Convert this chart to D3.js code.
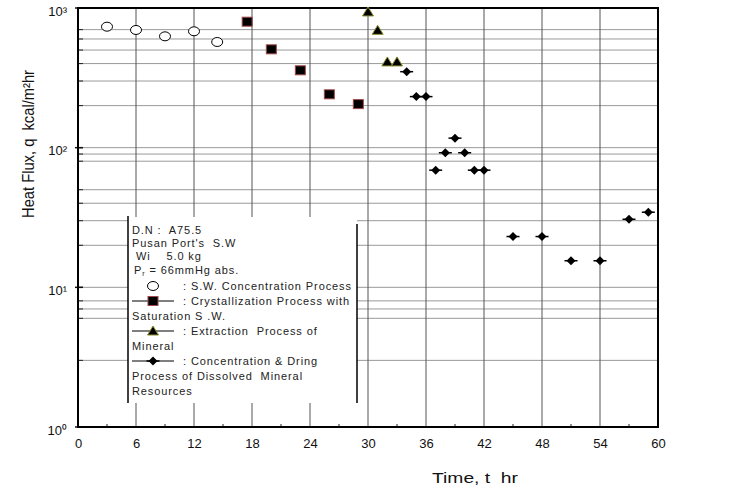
<!DOCTYPE html>
<html>
<head>
<meta charset="utf-8">
<script src="https://cdn.jsdelivr.net/npm/d3@7"></script>
<style>
  body { margin: 0; background: #fff; }
  text { font-family: "Liberation Sans", Arial, sans-serif; white-space: pre; }
  .legend text { font-family: "Liberation Sans", Arial, sans-serif; font-size: 11px; letter-spacing: 0.9px; fill: #222; }
</style>
</head>
<body>
<div class="chart"></div>
<script>
// values
let swTime = [3, 6, 9, 12, 14.4];
let swFlux = [735, 696, 627, 681, 571];

let crystTime = [17.5, 20, 23, 26, 29];
let crystFlux = [798, 506, 358, 241, 205];

let extrTime = [30, 31, 32, 33];
let extrFlux = [937, 692, 411, 411];

let concTime = [34, 35, 36, 37, 38, 39, 40, 41, 42, 45, 48, 51, 54, 57, 59];
let concFlux = [350, 232, 232, 69, 92, 117, 92, 69, 69, 23.1, 23.1, 15.5, 15.5, 30.7, 34.5];

let xTicks = [0, 6, 12, 18, 24, 30, 36, 42, 48, 54, 60];
let xMinorTicks = [3, 9, 15, 21, 27, 33, 39, 45, 51, 57];
let yTicks = [1, 10, 100, 1000];
let yTickLabels = ["10⁰", "10¹", "10²", "10³"];
// the horizontal rules the original actually shows
let yGrid = [700, 600, 500, 400, 300, 200, 100, 90, 80, 50, 40, 30, 20, 10, 8, 7, 6, 3];

let legendHeader = ["D.N :  A75.5", "Pusan Port's  S.W", " Wi    5.0 kg"];
let legendRows = [
  ["circle", ": S.W. Concentration Process"],
  ["square", ": Crystallization Process with"],
  ["", "Saturation S .W."],
  ["triangle", ": Extraction  Process of"],
  ["", "Mineral"],
  ["diamond", ": Concentration & Dring"],
  ["", "Process of Dissolved  Mineral"],
  ["", "Resources"]
];

let svgWidth = 742;
let svgHeight = 495;

let svg = d3.select(".chart")
  .append("svg")
  .attr("width", svgWidth)
  .attr("height", svgHeight)
  .style("background", "#fff");

let x = d3.scaleLinear().domain([0, 60]).range([78, 658]);
let y = d3.scaleLog().domain([1, 1000]).range([427, 8]);

// grid
let grid = svg.append("g");
grid.selectAll(".hg")
  .data(yGrid)
  .enter()
  .append("line")
  .attr("x1", x(0)).attr("x2", x(60))
  .attr("y1", d => y(d)).attr("y2", d => y(d))
  .attr("stroke", "#9a9a9a")
  .attr("stroke-width", 1);

grid.selectAll(".vg")
  .data(xTicks.slice(1, -1))
  .enter()
  .append("line")
  .attr("x1", d => x(d)).attr("x2", d => x(d))
  .attr("y1", y(1000)).attr("y2", y(1))
  .attr("stroke", "#555")
  .attr("stroke-width", 1);

// little ticks inside the left axis
svg.append("g").selectAll("line")
  .data(yGrid)
  .enter()
  .append("line")
  .attr("x1", x(0)).attr("x2", x(0) + 5)
  .attr("y1", d => y(d)).attr("y2", d => y(d))
  .attr("stroke", "#222");

svg.append("g").selectAll("line")
  .data(yTicks)
  .enter()
  .append("line")
  .attr("x1", x(0) - 3).attr("x2", x(0) + 5)
  .attr("y1", d => y(d)).attr("y2", d => y(d))
  .attr("stroke", "#111")
  .attr("stroke-width", 1.5);

svg.append("g").selectAll("line")
  .data(xMinorTicks)
  .enter()
  .append("line")
  .attr("x1", d => x(d)).attr("x2", d => x(d))
  .attr("y1", y(1)).attr("y2", y(1) - 3)
  .attr("stroke", "#222");

// frame
svg.append("rect")
  .attr("x", x(0)).attr("y", y(1000))
  .attr("width", x(60) - x(0)).attr("height", y(1) - y(1000))
  .attr("fill", "none")
  .attr("stroke", "#000")
  .attr("stroke-width", 2);

// axes labels via d3 axes (no tick lines, the grid does that)
let bottomAxis = d3.axisBottom(x).tickValues(xTicks).tickSize(0).tickPadding(12);
let xAxisG = svg.append("g")
  .attr("transform", `translate(0, ${y(1)})`)
  .call(bottomAxis);
xAxisG.select(".domain").remove();
xAxisG.selectAll("text")
  .style("font-family", "Liberation Sans, Arial, sans-serif")
  .style("font-size", "13px")
  .attr("fill", "#111");

let leftAxis = d3.axisLeft(y).tickValues(yTicks).tickSize(0).tickPadding(11)
  .tickFormat((d, i) => yTickLabels[i]);
let yAxisG = svg.append("g")
  .attr("transform", `translate(${x(0)}, 0)`)
  .call(leftAxis);
yAxisG.select(".domain").remove();
yAxisG.selectAll("text")
  .style("font-family", "Liberation Sans, Arial, sans-serif")
  .style("font-size", "13px")
  .attr("fill", "#111")
  .attr("dy", "0.55em");

// markers
function drawSquare(g) {
  g.append("rect").attr("x", -5).attr("y", -4.5).attr("width", 10).attr("height", 9)
    .attr("fill", "#000").attr("stroke", "#a04848").attr("stroke-width", 1);
}
function drawTriangle(g) {
  g.append("path").attr("d", "M0,-5 L5.5,4 L-5.5,4 Z")
    .attr("fill", "#000").attr("stroke", "#8c8c2c").attr("stroke-width", 1);
}
function drawDiamond(g) {
  g.append("line").attr("x1", -6.5).attr("x2", 6.5).attr("stroke", "#000").attr("stroke-width", 1.5);
  g.append("path").attr("d", "M0,-4.5 L4.5,0 L0,4.5 L-4.5,0 Z").attr("fill", "#000");
}
function drawCircle(g) {
  g.append("ellipse").attr("rx", 5.5).attr("ry", 4.5)
    .attr("fill", "#fff").attr("stroke", "#000").attr("stroke-width", 1);
}

let series = [
  { t: swTime, q: swFlux, draw: drawCircle },
  { t: crystTime, q: crystFlux, draw: drawSquare },
  { t: extrTime, q: extrFlux, draw: drawTriangle },
  { t: concTime, q: concFlux, draw: drawDiamond }
];

series.forEach(s => {
  s.t.forEach((tv, i) => {
    let g = svg.append("g").attr("transform", `translate(${x(tv)}, ${y(s.q[i])})`);
    s.draw(g);
  });
});

// legend box
let legend = svg.append("g").attr("class", "legend");
legend.append("clipPath").attr("id", "legClip")
  .append("rect").attr("x", 128).attr("y", 210).attr("width", 228).attr("height", 200);
legend.append("rect")
  .attr("x", 128).attr("y", 217).attr("width", 229).attr("height", 186)
  .attr("fill", "#fff");
legend.append("line").attr("x1", 128).attr("x2", 128).attr("y1", 216).attr("y2", 403)
  .attr("stroke", "#000").attr("stroke-width", 1.5);
legend.append("line").attr("x1", 357).attr("x2", 357).attr("y1", 224).attr("y2", 403)
  .attr("stroke", "#000").attr("stroke-width", 1.5);

let lt = legend.append("g").attr("clip-path", "url(#legClip)");
legendHeader.forEach((s, i) => {
  lt.append("text").attr("x", 132).attr("y", 234 + i * 13.2).text(s);
});
let pLine = lt.append("text").attr("x", 134).attr("y", 273.6);
pLine.append("tspan").text("P");
pLine.append("tspan").attr("dy", 2).style("font-size", "7px").text("r");
pLine.append("tspan").attr("dy", -2).text(" = 66mmHg abs.");

legendRows.forEach((r, i) => {
  let yy = 290 + i * 15;
  if (r[0] === "") {
    lt.append("text").attr("x", 132).attr("y", yy).text(r[1]);
    return;
  }
  lt.append("text").attr("x", 183).attr("y", yy).text(r[1]);
  let g = lt.append("g").attr("transform", `translate(153, ${yy - 4})`);
  if (r[0] === "circle") {
    drawCircle(g);
  } else {
    g.append("line").attr("x1", -21).attr("x2", 21).attr("stroke", "#000").attr("stroke-width", 1.2);
    if (r[0] === "square") drawSquare(g);
    if (r[0] === "triangle") drawTriangle(g);
    if (r[0] === "diamond") drawDiamond(g);
  }
});

// axis titles
svg.append("text")
  .attr("transform", "translate(34, 144) rotate(-90)")
  .attr("text-anchor", "middle")
  .attr("textLength", 148)
  .attr("lengthAdjust", "spacingAndGlyphs")
  .style("font-size", "16px")
  .attr("fill", "#111")
  .text("Heat Flux, q  kcal/m²hr");

svg.append("text")
  .attr("x", 432)
  .attr("y", 483)
  .attr("textLength", 86)
  .attr("lengthAdjust", "spacingAndGlyphs")
  .style("font-size", "15px")
  .attr("fill", "#111")
  .text("Time, t  hr");
</script>
</body>
</html>
